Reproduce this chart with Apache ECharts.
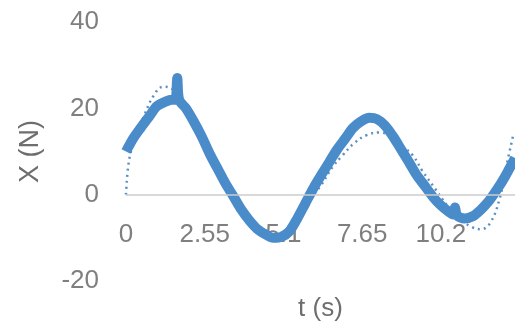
<!DOCTYPE html>
<html>
<head>
<meta charset="utf-8">
<script src="https://cdn.jsdelivr.net/npm/echarts@6/dist/echarts.min.js"></script>
<style>
  html, body { margin: 0; padding: 0; background: #fff; }
  #chart { width: 515px; height: 331px; }
</style>
</head>
<body>
<div id="chart"></div>
<script>
const measT = [0, 0.23, 0.48, 0.74, 1.0, 1.26, 1.48, 1.6, 1.66, 1.72, 1.94, 2.19, 2.45, 2.71, 2.97, 3.23, 3.49, 3.74, 4.0, 4.26, 4.52, 4.77, 5.03, 5.29, 5.55, 5.81, 6.07, 6.32, 6.58, 6.84, 7.1, 7.36, 7.62, 7.88, 8.13, 8.39, 8.65, 8.91, 9.17, 9.42, 9.68, 9.94, 10.2, 10.46, 10.6, 10.66, 10.72, 10.97, 11.23, 11.49, 11.75, 12.0, 12.26, 12.6];
const measX = [10, 13, 15.5, 18, 20.5, 21.5, 22, 22, 27, 22, 20, 17, 13.5, 9.5, 6, 2.5, -0.5, -3.5, -6, -8, -9.2, -10, -9.8, -8.5, -5.5, -2, 1.5, 4.5, 7.5, 10.5, 13, 15.5, 17, 17.8, 17.5, 16, 13.5, 10.5, 7.5, 4.5, 2, -0.5, -2.5, -4, -4.6, -3, -4.8, -5.5, -5, -3.5, -1.5, 1, 4, 8.5];

// dotted comparison curve
const modelT = [0, 0.1, 0.3, 0.6, 0.9, 1.2, 1.5, 1.9, 2.3, 2.7, 3.1, 3.5, 3.9, 4.3, 4.7, 5.1, 5.4, 5.6, 5.9, 6.3, 6.7, 7.0, 7.4, 7.8, 8.2, 8.6, 9.0, 9.3, 9.6, 10.0, 10.4, 10.8, 11.2, 11.5, 11.8, 12.1, 12.3, 12.55];
const modelX = [0, 8, 13, 18.5, 23, 25, 24.5, 21.5, 16, 10.5, 5, 0.5, -4, -7.5, -9.5, -9.5, -7.5, -5, -1.5, 2, 6.5, 9, 12, 13.8, 14.4, 13.5, 11, 9, 5.5, 1.5, -2.5, -5.5, -7.5, -8, -6.5, -1, 6, 14];

const yTicks = [-20, 0, 20, 40];

const gridTop = 22, gridBottom = 50, chartH = 331;
// the category labels sit under the zero line, as in the spreadsheet chart
const plotH = chartH - gridTop - gridBottom;
const zeroOffset = -plotH * (0 - yTicks[0]) / (yTicks[yTicks.length - 1] - yTicks[0]);

const myChart = echarts.init(document.getElementById('chart'));
const textColor = '#7f7f7f';
const blue = '#4a8bc9';

const option = {
  animation: false,
  grid: { left: 126, right: 0, top: gridTop, bottom: gridBottom, outerBoundsMode: 'none', containLabel: false },
  xAxis: {
    type: 'value',
    min: 0,
    max: 12.6,
    interval: 2.55,
    offset: zeroOffset,
    name: 't (s)',
    nameLocation: 'middle',
    nameGap: 101,
    nameTextStyle: { color: '#6e6e6e', fontSize: 26, fontFamily: 'Liberation Sans' },
    axisLine: { show: false },
    axisTick: { show: false },
    splitLine: { show: false },
    axisLabel: {
      color: textColor, fontSize: 26, fontFamily: 'Liberation Sans', margin: 27,
      showMaxLabel: false
    }
  },
  yAxis: {
    type: 'value',
    min: yTicks[0],
    max: yTicks[yTicks.length - 1],
    interval: 20,
    name: 'X (N)',
    nameLocation: 'middle',
    nameGap: 82,
    nameRotate: 90,
    nameTextStyle: { color: '#6e6e6e', fontSize: 27, fontFamily: 'Liberation Sans' },
    axisLine: { show: false },
    axisTick: { show: false },
    splitLine: { show: false },
    axisLabel: { color: textColor, fontSize: 26, fontFamily: 'Liberation Sans', margin: 27 }
  },
  series: [
    {
      type: 'line',
      data: modelT.map((t, i) => [t, modelX[i]]),
      smooth: 0.4,
      symbol: 'none',
      lineStyle: { color: '#5a8fc6', width: 2.5, type: [2, 4] },
      markLine: {
        silent: true,
        symbol: 'none',
        label: { show: false },
        lineStyle: { color: '#cccccc', width: 1.5, type: 'solid' },
        data: [{ yAxis: 0 }]
      },
      z: 3
    },
    {
      type: 'line',
      data: measT.map((t, i) => [t, measX[i]]),
      smooth: 0.3,
      symbol: 'none',
      lineStyle: { color: blue, width: 10 },
      z: 4
    }
  ]
};
option && myChart.setOption(option);
</script>
</body>
</html>
